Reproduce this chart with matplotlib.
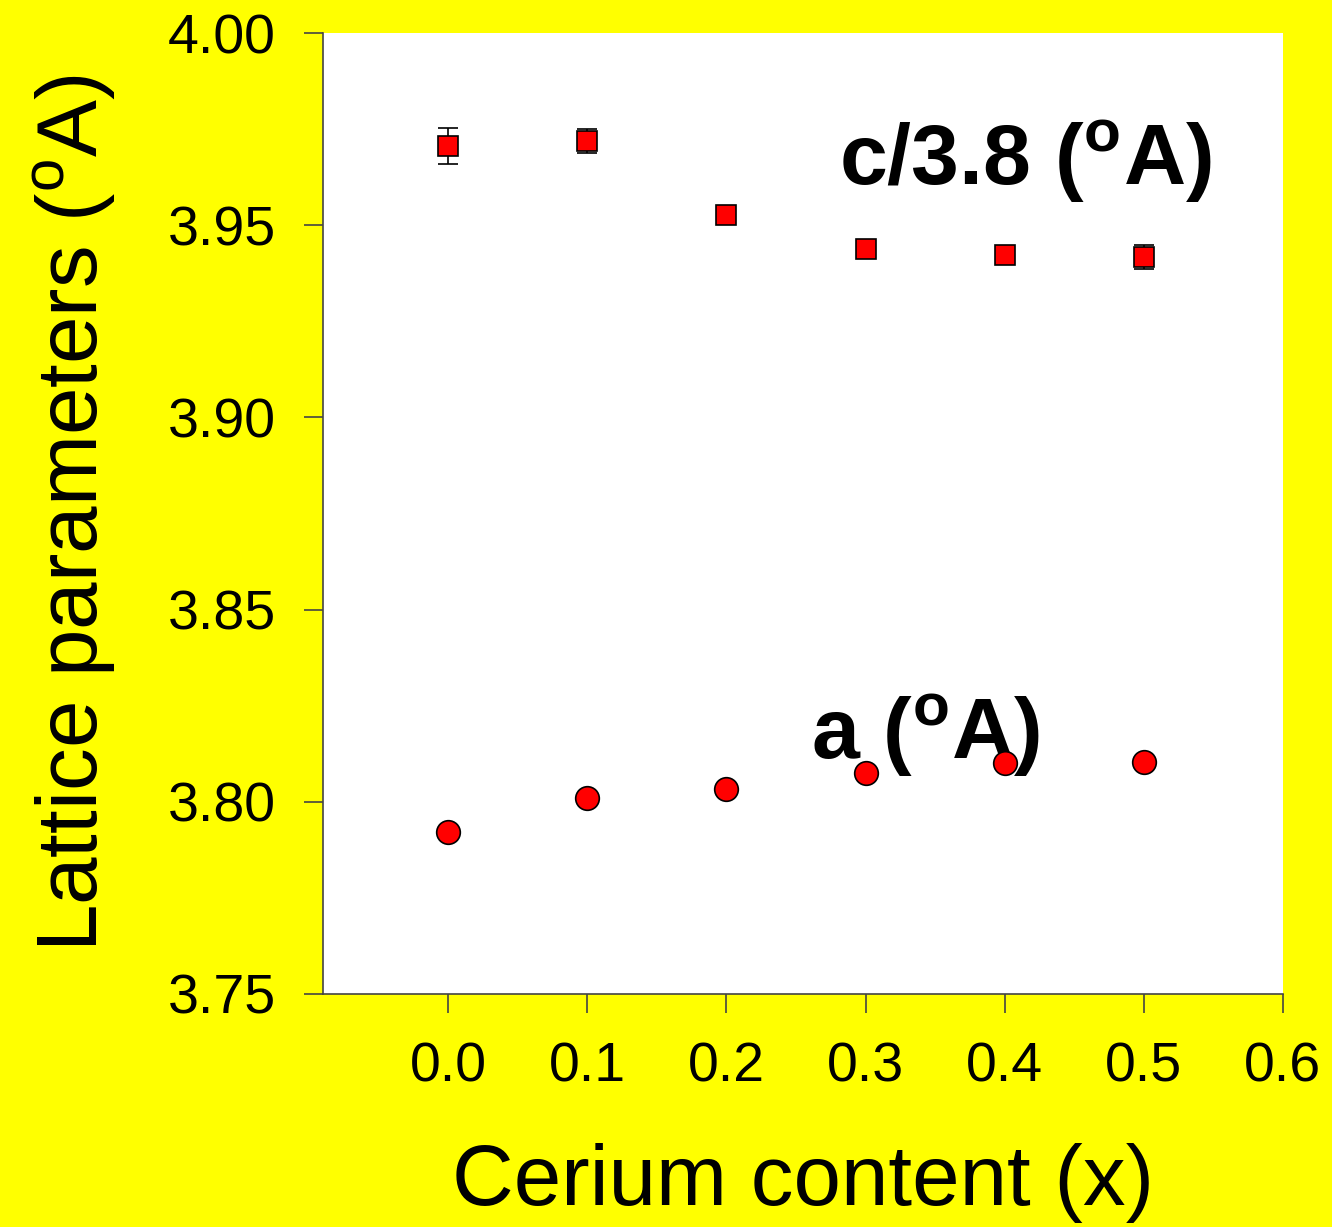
import matplotlib
matplotlib.use("Agg")
import matplotlib.pyplot as plt

plt.rcParams['font.family'] = ['Liberation Sans', 'DejaVu Sans']
plt.rcParams['mathtext.fontset'] = 'custom'
plt.rcParams['mathtext.rm'] = 'Liberation Sans'
plt.rcParams['mathtext.bf'] = 'Liberation Sans:bold'

# cerium content x
cerium = [0.0, 0.1, 0.2, 0.3, 0.4, 0.5]
# c/3.8 lattice parameter and its error
c_param = [3.9706, 3.9719, 3.9527, 3.9438, 3.9422, 3.9417]
c_err = [0.0048, 0.0031, 0.0015, 0.0015, 0.0015, 0.0031]
# a lattice parameter
a_param = [3.7921, 3.8010, 3.8033, 3.8075, 3.8101, 3.8104]

x_ticks = [0.0, 0.1, 0.2, 0.3, 0.4, 0.5, 0.6]
y_ticks = [3.75, 3.80, 3.85, 3.90, 3.95, 4.00]

fig = plt.figure(figsize=(13.32, 12.27), dpi=100)
fig.patch.set_facecolor('#ffff00')
ax = fig.add_axes([0.2425, 0.1899, 0.7207, 0.7832])
ax.set_facecolor('white')

ax.errorbar(cerium, c_param, yerr=c_err, fmt='s', ms=15, mfc='red', mec='black',
            mew=1.2, ecolor='black', elinewidth=1.2, capsize=7.5, capthick=1.5, zorder=3)
ax.plot(cerium, a_param, 'o', ms=17, mfc='red', mec='black', mew=1.2, zorder=3)

ax.text(0.415, 3.9665, r'c/3.8 ($^{\mathbf{o}}$A)', fontsize=62, fontweight='bold',
        ha='center', va='center')
ax.text(0.343, 3.8172, r'a ($^{\mathbf{o}}$A)', fontsize=62, fontweight='bold',
        ha='center', va='center', zorder=2)

ax.set_xlim(-0.09, 0.6)
ax.set_ylim(3.75, 4.00)
ax.set_xticks(x_ticks)
ax.set_xticklabels([f'{v:.1f}' for v in x_ticks])
ax.set_yticks(y_ticks)
ax.set_yticklabels([f'{v:.2f}' for v in y_ticks])

for side in ['top', 'right']:
    ax.spines[side].set_visible(False)
for side in ['left', 'bottom']:
    ax.spines[side].set_color('#444444')
    ax.spines[side].set_linewidth(1.2)

ax.tick_params(axis='both', direction='out', length=14, width=1.2, color='#444444',
               labelsize=40, pad=20)

ax.set_xlabel('Cerium content (x)', fontsize=61.5, labelpad=36)
ax.set_ylabel(r'Lattice parameters ($^{\mathrm{o}}$A)', fontsize=61.5, labelpad=36)

fig.savefig('out.png', dpi=100, facecolor=fig.get_facecolor())
